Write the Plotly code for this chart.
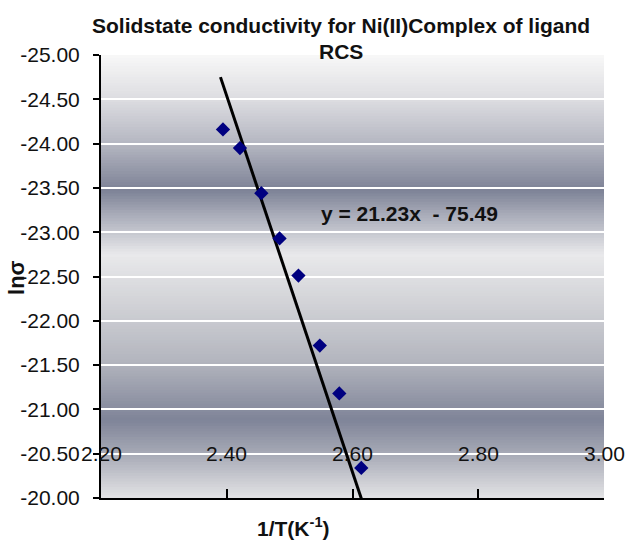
import plotly.graph_objects as go

# Measured conductivity data: 1/T (x10^-3 K^-1) against ln(sigma)
inv_T = [2.394, 2.421, 2.455, 2.484, 2.514, 2.548, 2.579, 2.614]
ln_sigma = [-24.16, -23.95, -23.44, -22.93, -22.51, -21.72, -21.18, -20.34]

# Linear trendline y = slope * x + intercept
slope = 21.23
intercept = -75.49
fit_x = [2.39, 2.64]
fit_y = [slope * x + intercept for x in fit_x]

x_ticks = [2.20, 2.40, 2.60, 2.80, 3.00]
x_tick_text = ["2.20", "2.40", "2.60", "2.80", "3.00"]
y_ticks = [-25.0, -24.5, -24.0, -23.5, -23.0, -22.5, -22.0, -21.5, -21.0, -20.5, -20.0]
y_tick_text = ["-25.00", "-24.50", "-24.00", "-23.50", "-23.00", "-22.50",
               "-22.00", "-21.50", "-21.00", "-20.50", "-20.00"]

title_line1 = "Solidstate conductivity for Ni(II)Complex of ligand"
title_line2 = "RCS"
equation_text = "y = 21.23x  - 75.49"

# Vertical gradient of the plot background (paper fraction from bottom, colour)
bg_stops = [
    (0.000, (228, 228, 230)),
    (0.097, (168, 171, 183)),
    (0.176, (127, 132, 152)),
    (0.312, (180, 182, 191)),
    (0.447, (211, 212, 216)),
    (0.549, (233, 233, 235)),
    (0.639, (169, 172, 185)),
    (0.695, (125, 130, 150)),
    (0.797, (179, 181, 192)),
    (0.898, (220, 220, 224)),
    (1.000, (248, 248, 248)),
]


def lerp_colour(f):
    for (f0, c0), (f1, c1) in zip(bg_stops[:-1], bg_stops[1:]):
        if f0 <= f <= f1:
            t = (f - f0) / (f1 - f0) if f1 > f0 else 0
            return "rgb(%d,%d,%d)" % tuple(round(a + (b - a) * t) for a, b in zip(c0, c1))
    return "rgb(%d,%d,%d)" % bg_stops[-1][1]


n_strips = 160
shapes = []
for i in range(n_strips):
    y0 = i / n_strips
    y1 = (i + 1) / n_strips
    shapes.append(dict(
        type="rect", xref="paper", yref="paper",
        x0=0, x1=1, y0=y0, y1=min(1.0, y1 + 0.002),
        fillcolor=lerp_colour((y0 + y1) / 2),
        line=dict(width=0), layer="below",
    ))

fig = go.Figure()

fig.add_trace(go.Scatter(
    x=fit_x, y=fit_y, mode="lines",
    line=dict(color="black", width=3),
    showlegend=False, hoverinfo="skip",
))

fig.add_trace(go.Scatter(
    x=inv_T, y=ln_sigma, mode="markers",
    marker=dict(symbol="diamond", size=11, color="#000080"),
    showlegend=False,
))

tick_font = dict(family="Liberation Sans, Arial, sans-serif", size=21, color="#111111")
bold_font = dict(family="Liberation Sans, Arial, sans-serif",
                 size=21, color="#111111", weight="bold")

annotations = []
for xv, txt in zip(x_ticks, x_tick_text):
    annotations.append(dict(
        x=xv, y=-20.5, xref="x", yref="y", text=txt, showarrow=False,
        xanchor="center", yanchor="middle", font=tick_font,
    ))

annotations += [
    dict(x=0.477, y=1.0677, xref="paper", yref="paper", text=title_line1,
         showarrow=False, xanchor="center", yanchor="middle", font=bold_font),
    dict(x=0.477, y=1.0068, xref="paper", yref="paper", text=title_line2,
         showarrow=False, xanchor="center", yanchor="middle", font=bold_font),
    dict(x=2.691, y=-23.21, xref="x", yref="y", text=equation_text,
         showarrow=False, xanchor="center", yanchor="middle", font=bold_font),
    dict(x=-0.167, y=0.499, xref="paper", yref="paper", text="lnσ",
         showarrow=False, textangle=-90, xanchor="center", yanchor="middle",
         font=dict(bold_font, size=22)),
    dict(x=0.382, y=-0.0655, xref="paper", yref="paper", text="1/T(K<sup>-1</sup>)",
         showarrow=False, xanchor="center", yanchor="middle",
         font=dict(bold_font, size=21)),
]

fig.update_layout(
    width=629, height=542,
    margin=dict(l=101, r=25, t=55, b=44),
    paper_bgcolor="white",
    plot_bgcolor="rgba(0,0,0,0)",
    shapes=shapes,
    annotations=annotations,
    showlegend=False,
)

fig.update_xaxes(
    range=[2.2, 3.0],
    tickvals=x_ticks, showticklabels=False,
    ticks="inside", ticklen=9, tickwidth=1.5, tickcolor="black",
    showline=True, linecolor="black", linewidth=2,
    showgrid=False, zeroline=False,
)

fig.update_yaxes(
    range=[-20, -25],
    tickvals=y_ticks, ticktext=y_tick_text, tickfont=tick_font,
    ticks="outside", ticklen=6, tickwidth=1.5, tickcolor="black",
    ticklabelstandoff=9,
    showline=True, linecolor="black", linewidth=2,
    showgrid=True, gridcolor="white", gridwidth=2,
    zeroline=False,
)

fig.write_html("out.html")
